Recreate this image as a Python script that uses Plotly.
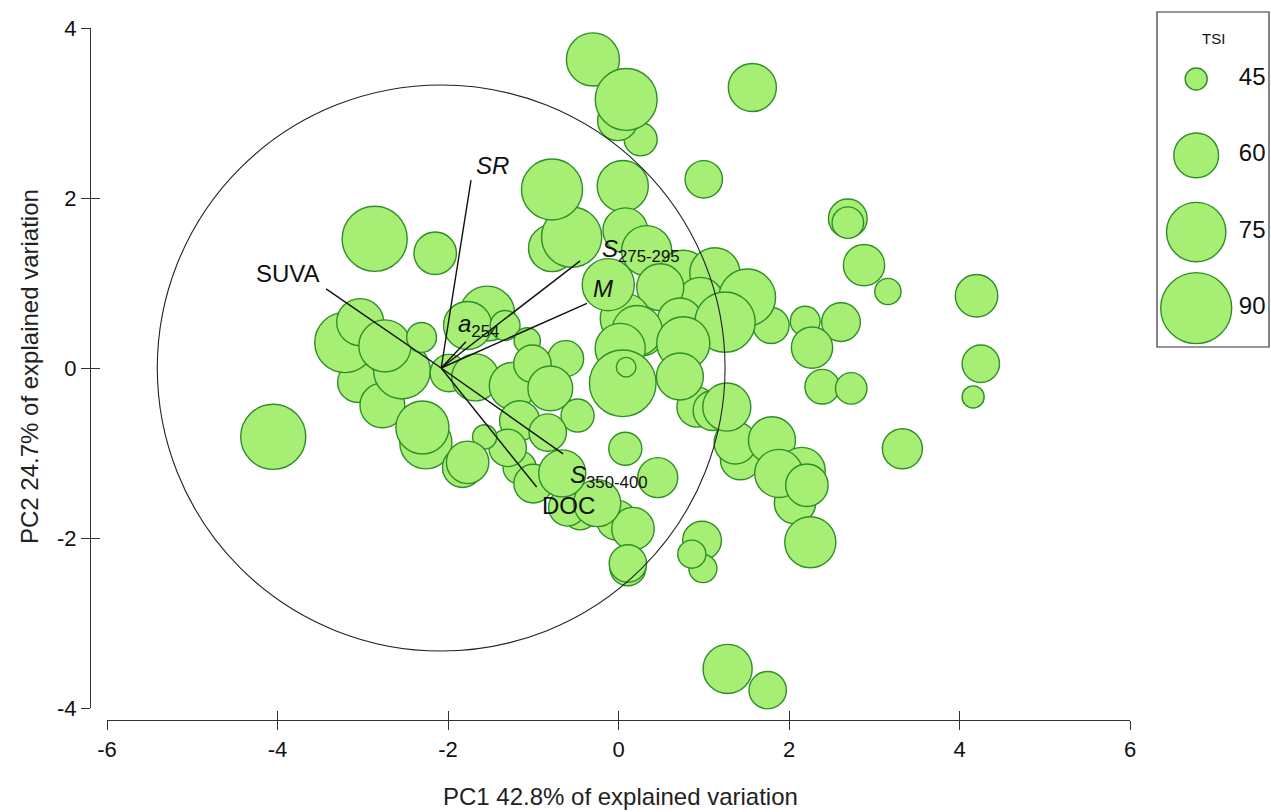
import numpy as np
import plotly.graph_objects as go

# ---------------- data ----------------
pc1 = [0.26, -0.01, -0.30, 0.09, 1.57, 1.00, 2.69, 2.69, 2.88, 3.16, 4.20, 4.25, 4.16,
       2.61, 2.19, 2.27, 2.39, 2.73, 3.33, 1.28, 1.75,
       1.43, 1.37, 1.80, 2.07, 2.15, 1.88, 2.21, 2.25, 0.98, 0.99, 0.86,
       0.92, 1.11, 1.27,
       0.08, 0.46, -0.02, 0.17, 0.11, 0.11, -0.45, -0.60, -0.25, -1.16, -1.00, -0.66,
       -0.78, -0.55, -0.78, 0.05, 0.08, 0.33, 0.76, 1.13, 0.96, 0.49, 0.72, 1.79, 1.51, 1.25,
       0.29, 0.08, 0.22, -0.12, 0.76, 0.72, 0.02, -0.62, -0.48, 0.05, 0.09,
       -4.05, -2.86, -2.15, -3.06, -2.77, -2.54, -3.21, -3.03, -2.74, -2.31, -2.26, -2.30,
       -1.99, -1.68, -1.24, -1.54, -1.77, -1.33, -1.07, -1.01, -0.80, -1.16, -0.83, -1.30,
       -1.57, -1.83, -1.77]
pc2 = [2.69, 2.91, 3.63, 3.16, 3.30, 2.22, 1.76, 1.71, 1.21, 0.90, 0.85, 0.05, -0.34,
       0.54, 0.55, 0.24, -0.22, -0.24, -0.95, -3.54, -3.79,
       -1.08, -0.88, -0.85, -1.59, -1.21, -1.24, -1.38, -2.05, -2.03, -2.36, -2.19,
       -0.46, -0.50, -0.46,
       -0.95, -1.29, -1.79, -1.89, -2.35, -2.30, -1.71, -1.64, -1.59, -1.17, -1.36, -1.24,
       1.41, 1.54, 2.10, 2.14, 1.62, 1.38, 1.09, 1.12, 0.79, 0.95, 0.56, 0.50, 0.83, 0.54,
       0.38, 0.58, 0.44, 0.98, 0.29, -0.10, 0.23, 0.11, -0.56, -0.18, 0.01,
       -0.81, 1.52, 1.35, -0.17, -0.44, -0.03, 0.30, 0.54, 0.26, 0.36, -0.88, -0.70,
       -0.06, -0.11, -0.21, 0.64, 0.50, 0.50, 0.32, 0.05, -0.24, -0.62, -0.76, -0.94,
       -0.81, -1.17, -1.11]
tsi = [51, 56, 68, 78, 63, 54, 55, 50, 57, 47, 58, 54, 45,
       55, 49, 57, 52, 50, 56, 64, 54,
       56, 58, 62, 57, 62, 63, 58, 66, 55, 48, 48,
       56, 56, 63,
       51, 56, 56, 58, 53, 54, 51, 54, 62, 51, 55, 62,
       62, 76, 77, 66, 60, 65, 65, 65, 62, 62, 60, 53, 72, 76,
       56, 65, 65, 67, 68, 62, 65, 53, 51, 84, 44,
       82, 82, 58, 56, 60, 72, 76, 62, 67, 49, 67, 68,
       54, 62, 62, 70, 63, 49, 47, 54, 60, 56, 54, 54,
       46, 56, 58]

# loading vectors (biplot arrows) drawn from the circle centre
origin_pc1 = -2.08
origin_pc2 = 0.0
circle_radius = 3.33
loading_names = ["SR", "SUVA", "a254", "S275-295", "M", "S350-400", "DOC"]
loading_pc1 = [-1.73, -3.43, -1.79, -0.45, -0.37, -0.65, -0.96]
loading_pc2 = [2.21, 0.93, 0.31, 1.26, 0.76, -1.01, -1.40]
label_text = ["<i>SR</i>", "SUVA", "<i>a</i><sub>254</sub>", "<i>S</i><sub>275-295</sub>",
              "<i>M</i>", "<i>S</i><sub>350-400</sub>", "DOC"]
label_pc1 = [-1.48, -3.88, -1.64, 0.26, -0.18, -0.11, -0.59]
label_pc2 = [2.38, 1.11, 0.50, 1.38, 0.94, -1.28, -1.62]

legend_tsi = [45, 60, 75, 90]
legend_labels = ["45", "60", "75", "90"]

x_ticks = [-6, -4, -2, 0, 2, 4, 6]
x_ticktext = ["-6", "-4", "-2", "0", "2", "4", "6"]
y_ticks = [-4, -2, 0, 2, 4]
y_ticktext = ["-4", "-2", "0", "2", "4"]

# ---------------- styling ----------------
W, H = 1271, 812
FONT = "Liberation Sans, Arial, sans-serif"
FILL = "#a6ee74"
EDGE = "#2f8f27"


def size_px(v):
    v = np.asarray(v, dtype=float)
    return np.sqrt(101.3 * (v - 40.2))


def px_x(p):
    return p / W


def px_y(p):
    return 1 - p / H


fig = go.Figure()

# bubbles
fig.add_trace(go.Scatter(
    x=pc1, y=pc2, mode="markers",
    marker=dict(size=size_px(tsi), sizemode="diameter", color=FILL,
                line=dict(color=EDGE, width=1.4), opacity=1),
    hoverinfo="skip", showlegend=False, cliponaxis=False))

# loading arrows
lx, ly = [], []
for a, b in zip(loading_pc1, loading_pc2):
    lx += [origin_pc1, a, None]
    ly += [origin_pc2, b, None]
fig.add_trace(go.Scatter(x=lx, y=ly, mode="lines", line=dict(color="#111111", width=1.4),
                         hoverinfo="skip", showlegend=False))

# helpers for crossing ticks
fig.add_trace(go.Scatter(x=[None], y=[None], xaxis="x3", yaxis="y", showlegend=False, hoverinfo="skip"))
fig.add_trace(go.Scatter(x=[None], y=[None], xaxis="x", yaxis="y3", showlegend=False, hoverinfo="skip"))

# legend (size key)
legend_row_y = [0.80, 0.572, 0.343, 0.116]
fig.add_trace(go.Scatter(
    x=[0.35] * 4, y=legend_row_y, mode="markers", xaxis="x2", yaxis="y2",
    marker=dict(size=size_px(legend_tsi), sizemode="diameter", color=FILL, opacity=1,
                line=dict(color=EDGE, width=1.4)),
    hoverinfo="skip", showlegend=False, cliponaxis=False))
fig.add_trace(go.Scatter(
    x=[0.85] * 4, y=legend_row_y, mode="text", text=legend_labels, xaxis="x2", yaxis="y2",
    textfont=dict(family=FONT, size=24, color="#111111"),
    hoverinfo="skip", showlegend=False, cliponaxis=False))

# correlation circle
fig.add_shape(type="circle", xref="x", yref="y",
              x0=origin_pc1 - circle_radius, x1=origin_pc1 + circle_radius,
              y0=origin_pc2 - circle_radius, y1=origin_pc2 + circle_radius,
              line=dict(color="#222222", width=1.1), layer="above")

# legend box
fig.add_shape(type="rect", xref="x2 domain", yref="y2 domain", x0=0, x1=1, y0=0, y1=1,
              line=dict(color="#333333", width=1.2))

annotations = []
for t, a, b in zip(label_text, label_pc1, label_pc2):
    annotations.append(dict(x=a, y=b, xref="x", yref="y", text=t, showarrow=False,
                            font=dict(family=FONT, size=24, color="#111111")))
annotations.append(dict(x=0.5, y=0.952, xref="x2 domain", yref="y2 domain", text="TSI",
                        showarrow=False, font=dict(family=FONT, size=15, color="#111111")))
annotations.append(dict(x=px_x(620), y=px_y(796), xref="paper", yref="paper",
                        xanchor="center", yanchor="middle",
                        text="PC1 42.8% of explained variation", showarrow=False,
                        font=dict(family=FONT, size=24, color="#222222")))
annotations.append(dict(x=px_x(29), y=px_y(367), xref="paper", yref="paper", textangle=-90,
                        xanchor="center", yanchor="middle",
                        text="PC2 24.7% of explained variation", showarrow=False,
                        font=dict(family=FONT, size=24, color="#222222")))

x_dom = [px_x(107), px_x(1130)]
y_dom = [px_y(708), px_y(28)]
x_pos = px_y(720)
y_pos = px_x(90)

tickfont = dict(family=FONT, size=22, color="#111111")
common = dict(showgrid=False, zeroline=False, tickcolor="#333333", tickwidth=1.2, ticklen=9)

fig.update_layout(
    width=W, height=H, margin=dict(l=0, r=0, t=0, b=0),
    paper_bgcolor="white", plot_bgcolor="rgba(0,0,0,0)",
    showlegend=False,
    xaxis=dict(domain=x_dom, range=[-6, 6], anchor="free", position=x_pos,
               showline=True, linecolor="#333333", linewidth=1.2,
               ticks="outside", tickvals=x_ticks, ticktext=x_ticktext, tickfont=tickfont,
               automargin=False, **common),
    yaxis=dict(domain=y_dom, range=[-4, 4], anchor="free", position=y_pos,
               showline=True, linecolor="#333333", linewidth=1.2,
               ticks="outside", tickvals=y_ticks, ticktext=y_ticktext, tickfont=tickfont,
               automargin=False, **common),
    xaxis3=dict(overlaying="x", range=[-6, 6], anchor="free", position=x_pos,
                ticks="inside", tickvals=x_ticks, showticklabels=False, showline=False,
                automargin=False, **common),
    yaxis3=dict(overlaying="y", range=[-4, 4], anchor="free", position=y_pos,
                ticks="inside", tickvals=y_ticks, showticklabels=False, showline=False,
                automargin=False, **common),
    xaxis2=dict(domain=[px_x(1157), px_x(1269)], range=[0, 1], anchor="y2", visible=False),
    yaxis2=dict(domain=[px_y(347), px_y(12)], range=[0, 1], anchor="x2", visible=False),
    annotations=annotations,
)

fig.write_html("out.html")
